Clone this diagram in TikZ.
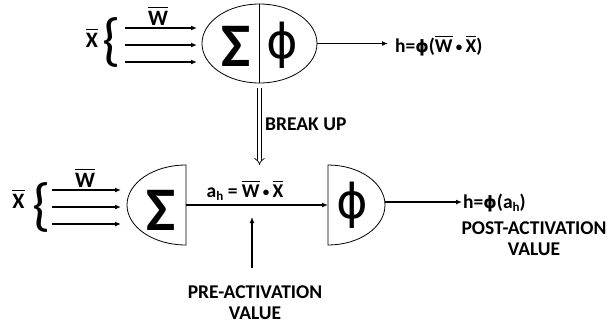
\documentclass[tikz,border=0pt]{standalone}
\usepackage{fontspec}
\setmainfont{Carlito}
\newfontfamily\phifont{DejaVu Sans}
\usetikzlibrary{arrows.meta,shapes.geometric}
\newcommand\ovl[1]{\leavevmode\vbox{\hrule height 1.4pt\kern 2.4pt\hbox{#1}}}
\newcommand\subh{\raisebox{-3.5pt}{\fontsize{13}{13}\selectfont h}}
\newcommand\ph{{\phifont\bfseries\fontsize{17}{17}\selectfont ϕ}}
\newcommand\dotop{\,\raisebox{1pt}{\fontsize{13}{13}\selectfont •}\,}
\begin{document}
\begin{tikzpicture}[x=1pt,y=-1pt,
  lbl/.style={inner sep=0pt, font=\bfseries\fontsize{19.5}{21}\selectfont},
  var/.style={inner sep=0pt, font=\bfseries\fontsize{22}{22}\selectfont},
  bigsig/.style={inner sep=0pt, font=\bfseries\fontsize{62}{62}\selectfont},
  bigphi/.style={inner sep=0pt, font=\phifont\fontsize{48}{48}\selectfont},
  brc/.style={inner sep=0pt, font=\fontsize{58}{58}\selectfont},
  arr/.style={line width=1.4pt, -{Latex[length=6pt,width=5pt]}},
  shp/.style={line width=0.8pt},
]
\useasboundingbox (0,0) rectangle (607,325);

% ---------- top neuron ----------
\node[shp, draw, ellipse, minimum width=115, minimum height=79, inner sep=0pt] (top) at (259.5,43.5) {};
\draw[shp] (top.north) -- (top.south);
\node[bigsig] (sig1) at (236,46) {Σ};
\node[bigphi] (phi1) at (282,45) {ϕ};

\node[var, anchor=base] (x1) at (92,47) {\ovl{X}};
\node[brc] (b1) at (112,42) {\{};
\node[var, anchor=base] (w1) at (158,25) {\ovl{W}};
\coordinate (a1s) at (125,28); \coordinate (a1e) at (197,28);
\coordinate (a2s) at (125,45); \coordinate (a2e) at (197,45);
\coordinate (a3s) at (125,62); \coordinate (a3e) at (197,62);
\draw[arr] (a1s) -- (a1e);
\draw[arr] (a2s) -- (a2e);
\draw[arr] (a3s) -- (a3e);

\coordinate (o1e) at (388,43.5);
\draw[arr] (top.east) -- (o1e);
\node[lbl, anchor=base west] (h1) at (395,52) {h=\ph(\ovl{W}\dotop\ovl{X})};

% ---------- break up ----------
\coordinate (bus) at (259.5,88);
\coordinate (bue) at (259.5,165);
\draw[double, double distance=3pt, line width=0.7pt, -{Implies[scale=1.3]}] (bus) -- (bue);
\node[lbl, anchor=west] (bk) at (265,124) {BREAK UP};

% ---------- bottom: sum unit ----------
\draw[shp] (186,165) arc[start angle=270, end angle=90, x radius=59, y radius=40] -- cycle;
\coordinate (sflat) at (186,205);
\node[bigsig] (sig2) at (161,210) {Σ};

\node[var, anchor=base] (x2) at (18.5,208) {\ovl{X}};
\node[brc] (b2) at (42,207) {\{};
\node[var, anchor=base] (w2) at (85,187) {\ovl{W}};
\coordinate (c1s) at (52,190); \coordinate (c1e) at (121,190);
\coordinate (c2s) at (52,207); \coordinate (c2e) at (121,207);
\coordinate (c3s) at (52,224); \coordinate (c3e) at (121,224);
\draw[arr] (c1s) -- (c1e);
\draw[arr] (c2s) -- (c2e);
\draw[arr] (c3s) -- (c3e);

% ---------- bottom: activation unit ----------
\draw[shp] (328,165) arc[start angle=-90, end angle=90, x radius=57, y radius=40] -- cycle;
\coordinate (pflat) at (328,205);
\coordinate (pright) at (385,202);
\node[bigphi] (phi2) at (352,205) {ϕ};

\draw[arr] (sflat) -- (pflat);
\node[lbl, anchor=base] (ah) at (245,197) {a\subh\ = \ovl{W}\dotop\ovl{X}};

\coordinate (preBot) at (252,268);
\coordinate (preTip) at (252,217);
\draw[arr] (preBot) -- (preTip);
\node[lbl, align=center, anchor=north] (pre) at (255,286) {PRE-ACTIVATION\\VALUE};

\coordinate (o2e) at (462,202);
\draw[arr] (pright) -- (o2e);
\node[lbl, anchor=base west] (h2) at (463,208) {h=\ph(a\subh)};
\node[lbl, align=center, anchor=north] (post) at (534,221.5) {POST-ACTIVATION\\VALUE};
\end{tikzpicture}
\end{document}
